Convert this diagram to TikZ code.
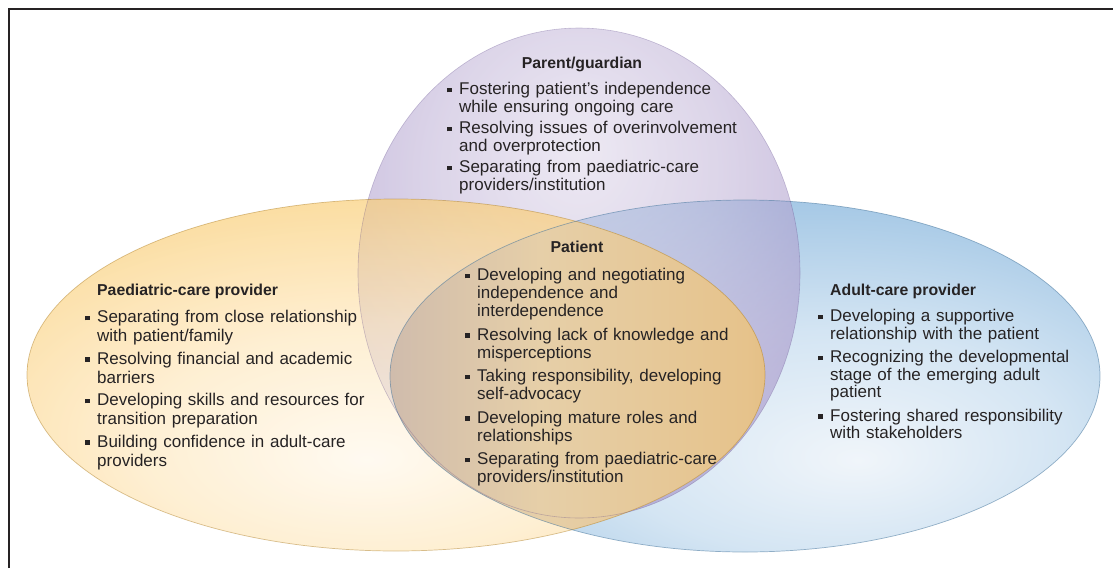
\documentclass[tikz,border=0pt]{standalone}
\usepackage{fontspec}
\setmainfont{Liberation Sans}
\definecolor{ink}{HTML}{262324}
\definecolor{or0}{HTML}{FFF8EB}
\definecolor{or1}{HTML}{FEE8BF}
\definecolor{or2}{HTML}{F9CC72}
\definecolor{or3}{HTML}{F1AB27}
\definecolor{bl0}{HTML}{F0F5FA}
\definecolor{bl1}{HTML}{D4E5F3}
\definecolor{bl2}{HTML}{A0C5E4}
\definecolor{bl3}{HTML}{62A0D3}
\definecolor{pu0}{HTML}{E1DAEB}
\definecolor{pu1}{HTML}{C5B9DA}
\definecolor{pu2}{HTML}{9985C1}
\definecolor{pu3}{HTML}{7055A7}
\definecolor{ln0}{HTML}{A79EB5}
\definecolor{ln1}{HTML}{C5B3AE}
\definecolor{ln2}{HTML}{E6CFA8}
\definecolor{ln3}{HTML}{E6C38C}
\definecolor{ln4}{HTML}{D89F55}
\pgfdeclareradialshading{orsh}{\pgfpoint{-2bp}{-12bp}}{color(0bp)=(or0); color(16bp)=(or1); color(34bp)=(or2); color(50bp)=(or3); color(80bp)=(or3)}
\pgfdeclareradialshading{blsh}{\pgfpoint{8bp}{-12bp}}{color(0bp)=(bl0); color(16bp)=(bl1); color(34bp)=(bl2); color(50bp)=(bl3); color(80bp)=(bl3)}
\pgfdeclareradialshading{push}{\pgfpoint{0bp}{13bp}}{color(0bp)=(pu0); color(16bp)=(pu1); color(36bp)=(pu2); color(50bp)=(pu3); color(80bp)=(pu3)}
\pgfdeclarehorizontalshading{lnsh}{100bp}{color(0bp)=(ln0); color(16bp)=(ln1); color(45bp)=(ln2); color(72bp)=(ln3); color(100bp)=(ln4)}
\newcommand{\itm}[1]{\par\hangindent=12pt\hangafter=1\noindent\makebox[12pt][l]{\raisebox{2.4pt}{\rule{4.6pt}{4.6pt}}}\rule{0pt}{13pt}#1\par}
\begin{document}
\begin{tikzpicture}[x=1pt,y=1pt,
  itemblk/.style={inner sep=0pt, anchor=north west, text width=330pt, text=ink},
  hdtext/.style={inner sep=0pt, text=ink, font=\bfseries\fontsize{15.8}{18}\selectfont}]
\useasboundingbox (0,0) rectangle (1113,-568);
% shapes
\shade[shading=blsh] (745,-376) ellipse [x radius=355pt, y radius=176pt];
\shade[shading=push, opacity=0.6] (579,-273) ellipse [x radius=221pt, y radius=245pt];
\shade[shading=orsh, opacity=0.7] (396,-375) ellipse [x radius=369pt, y radius=176pt];
\begin{scope}
  \clip (396,-375) ellipse [x radius=369pt, y radius=176pt];
  \clip (745,-376) ellipse [x radius=355pt, y radius=176pt];
  \shade[shading=lnsh] (388,-215) rectangle (768,-536);
\end{scope}
\draw[or3!70!black, line width=0.7pt, opacity=0.45] (396,-375) ellipse [x radius=369pt, y radius=176pt];
\draw[bl3!75!black, line width=0.7pt, opacity=0.55] (745,-376) ellipse [x radius=355pt, y radius=176pt];
\draw[pu3!80!black, line width=0.6pt, opacity=0.3] (579,-273) ellipse [x radius=221pt, y radius=245pt];
% frame
\draw[ink, line width=2.3pt] (9,-568) -- (9,-9) -- (1113,-9);
% Parent/guardian
\node[hdtext, anchor=base] (pgh) at (582,-68) {Parent/guardian};
\node[itemblk, font=\fontsize{17}{17.5}\selectfont] (pgl) at (447,-73) {\setlength{\parskip}{4pt}%
\itm{Fostering patient’s independence\newline while ensuring ongoing care}%
\itm{Resolving issues of overinvolvement\newline and overprotection}%
\itm{Separating from paediatric-care\newline providers/institution}};
% Paediatric-care provider
\node[hdtext, anchor=base west] (pch) at (97,-295) {Paediatric-care provider};
\node[itemblk, font=\fontsize{17}{19}\selectfont] (pcl) at (85,-300) {\setlength{\parskip}{3.5pt}%
\itm{Separating from close relationship\newline with patient/family}%
\itm{Resolving financial and academic\newline barriers}%
\itm{Developing skills and resources for\newline transition preparation}%
\itm{Building confidence in adult-care\newline providers}};
% Patient
\node[hdtext, anchor=base] (pth) at (577,-252) {Patient};
\node[itemblk, font=\fontsize{17}{18}\selectfont] (ptl) at (465,-257) {\setlength{\parskip}{5.5pt}%
\itm{Developing and negotiating\newline independence and\newline interdependence}%
\itm{Resolving lack of knowledge and\newline misperceptions}%
\itm{Taking responsibility, developing\newline self-advocacy}%
\itm{Developing mature roles and\newline relationships}%
\itm{Separating from paediatric-care\newline providers/institution}};
% Adult-care provider
\node[hdtext, anchor=base west] (ach) at (830,-295) {Adult-care provider};
\node[itemblk, font=\fontsize{17}{17.5}\selectfont] (acl) at (818,-298) {\setlength{\parskip}{6pt}%
\itm{Developing a supportive\newline relationship with the patient}%
\itm{Recognizing the developmental\newline stage of the emerging adult\newline patient}%
\itm{Fostering shared responsibility\newline with stakeholders}};
\end{tikzpicture}
\end{document}
